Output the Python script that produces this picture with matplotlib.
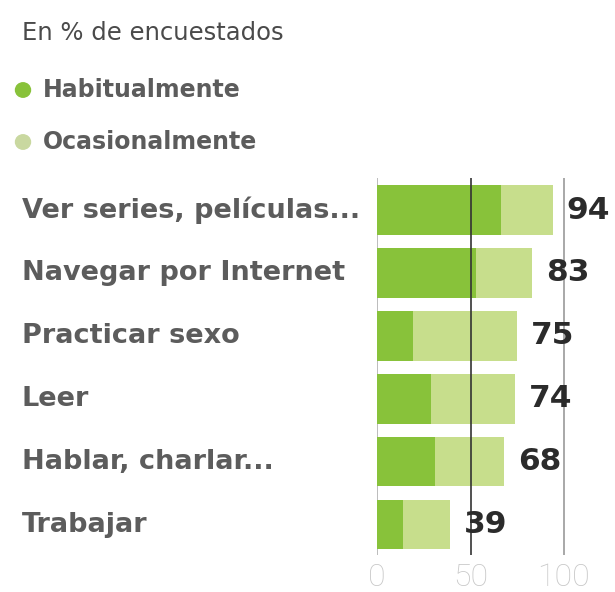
import matplotlib
matplotlib.use('Agg')
import matplotlib.pyplot as plt
import matplotlib.transforms as mtransforms
import numpy as np

categories = [
    'Ver series, películas...',
    'Navegar por Internet',
    'Practicar sexo',
    'Leer',
    'Hablar, charlar...',
    'Trabajar',
]
habitual = [66, 53, 19, 29, 31, 14]
totals = [94, 83, 75, 74, 68, 39]
ocasional = [t - h for t, h in zip(totals, habitual)]
ticks = [0, 50, 100]
legend_labels = ['Habitualmente', 'Ocasionalmente']

dark_green = '#88c23a'
light_green = '#c7de8c'

plt.rcParams['font.family'] = ['DejaVu Sans']

fig = plt.figure(figsize=(6.15, 5.92), dpi=100)
W, H = 615, 592
x0, x1 = 377.3, 615
y_top, y_bot = 178, 555
ax = fig.add_axes([x0 / W, 1 - y_bot / H, (x1 - x0) / W, (y_bot - y_top) / H])

pos = np.arange(len(categories))
ax.barh(pos, habitual, height=0.79, color=dark_green, zorder=2)
ax.barh(pos, ocasional, left=habitual, height=0.79, color=light_green, zorder=2)

ax.axvline(0, color='#b0b0b0', lw=1.2, zorder=1)
ax.axvline(100, color='#9a9a9a', lw=1.2, zorder=1)
ax.axvline(50, color='#333333', lw=1.2, zorder=3)

ax.set_xlim(0, (x1 - x0) / 1.867)
ax.set_ylim(5.485, -0.51)
ax.axis('off')

for p, t in zip(pos, totals):
    ax.annotate(str(t), (t, p), xytext=(10, 0), textcoords='offset points',
                ha='left', va='center', fontsize=22.5, fontweight='bold',
                color='#2b2b2b', zorder=4)

trans = mtransforms.blended_transform_factory(fig.transFigure, ax.transData)
for p, c in zip(pos, categories):
    ax.text(22 / W, p, c, transform=trans, ha='left', va='center',
            fontsize=19.5, fontweight='bold', color='#5c5c5c')

tick_trans = mtransforms.blended_transform_factory(ax.transData, fig.transFigure)
for t in ticks:
    ax.text(t, 1 - 578 / H, str(t), transform=tick_trans, ha='center', va='center',
            fontsize=23, fontweight='light', family=['Roboto', 'DejaVu Sans'],
            color='#c8c8c8')

fig.text(22 / W, 1 - 33 / H, 'En % de encuestados', ha='left', va='center',
         fontsize=17.5, color='#4a4a4a')

for i, (lab, col) in enumerate(zip(legend_labels, [dark_green, '#c9d8a0'])):
    yy = 1 - (90 + 52 * i) / H
    fig.add_artist(matplotlib.patches.Circle((23 / W, yy), 7.5 / W, transform=fig.transFigure,
                                             color=col))
    fig.text(43 / W, yy, lab, ha='left', va='center', fontsize=17,
             fontweight='bold', color='#5c5c5c')

fig.savefig('out.png', dpi=100)
